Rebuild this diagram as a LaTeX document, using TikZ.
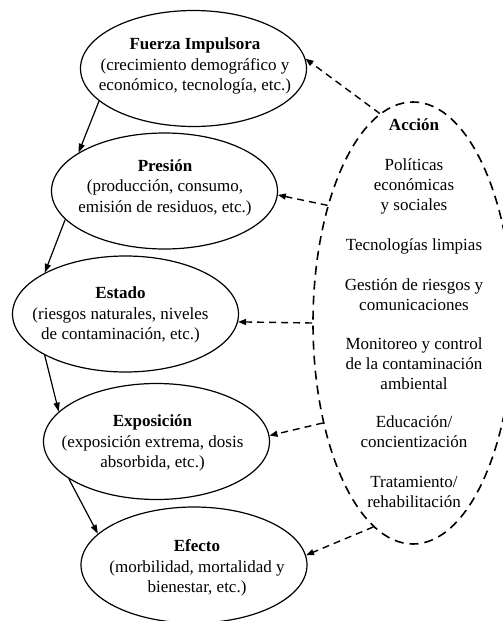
\documentclass[tikz,border=0pt]{standalone}
\usepackage{fontspec}
\setmainfont{Liberation Serif}
\usetikzlibrary{shapes.geometric,arrows.meta}
\begin{document}
\begin{tikzpicture}[x=1pt,y=-1pt,
  stage/.style={draw, ellipse, line width=1.2pt, minimum width=226pt,
    minimum height=116pt, inner sep=0pt},
  stagetxt/.style={align=center, inner sep=0pt,
    font=\fontsize{17}{20.5}\selectfont},
  actshape/.style={draw, ellipse, line width=1.6pt, dash pattern=on 9pt off 6pt,
    minimum width=200pt, minimum height=442pt, inner sep=0pt},
  acttxt/.style={align=center, inner sep=0pt, font=\fontsize{17}{20}\selectfont},
  flow/.style={line width=1.2pt, -{Triangle[length=9pt,width=6pt]}},
  act/.style={line width=1.4pt, dash pattern=on 7pt off 5pt,
    -{Triangle[length=8pt,width=6pt]}}
]
\useasboundingbox (0,0) rectangle (503,621);

% cadena causal: contornos
\node[stage] (fuerza) at (193.5,68.5) {};
\node[stage] (presion) at (164.5,191) {};
\node[stage] (estado) at (125.5,314) {};
\node[stage] (expo) at (156.5,441.5) {};
\node[stage] (efecto) at (194,565) {};

% cadena causal: textos
\node[stagetxt] (fuerzatxt) at (195,66)
  {\textbf{Fuerza Impulsora}\\(crecimiento demográfico y\\económico, tecnología, etc.)};
\node[stagetxt] (presiontxt) at (165,187.5)
  {\textbf{Presión}\\(producción, consumo,\\emisión de residuos, etc.)};
\node[stagetxt] (estadotxt) at (120.5,315)
  {\textbf{Estado}\\(riesgos naturales, niveles\\de contaminación, etc.)};
\node[stagetxt] (expotxt) at (152.5,443)
  {\textbf{Exposición}\\(exposición extrema, dosis\\absorbida, etc.)};
\node[stagetxt] (efectotxt) at (197,568)
  {\textbf{Efecto}\\(morbilidad, mortalidad y\\bienestar, etc.)};

% acciones
\node[actshape] (accion) at (413,323) {};
\node[acttxt] (acciontxt) at (414,313)
  {\textbf{Acción}\\[20pt]
   Políticas\\económicas\\y sociales\\[20pt]
   Tecnologías limpias\\[20pt]
   Gestión de riesgos y\\comunicaciones\\[19pt]
   Monitoreo y control\\de la contaminación\\ambiental\\[18pt]
   Educación/\\concientización\\[20pt]
   Tratamiento/\\rehabilitación};

% flechas de la cadena
\draw[flow] (fuerza.199) -- (presion.156);
\draw[flow] (presion.196) -- (estado.153);
\draw[flow] (estado.207) -- (expo.163);
\draw[flow] (expo.203) -- (efecto.162);

% flechas de las acciones
\draw[act] (accion.99.5) -- (fuerza.5);
\draw[act] (accion.126) -- (presion.-2);
\draw[act] (accion.180) -- (estado.-4);
\draw[act] (accion.228.5) -- (expo.3.5);
\draw[act] (accion.259.4) -- (efecto.5);
\end{tikzpicture}
\end{document}
